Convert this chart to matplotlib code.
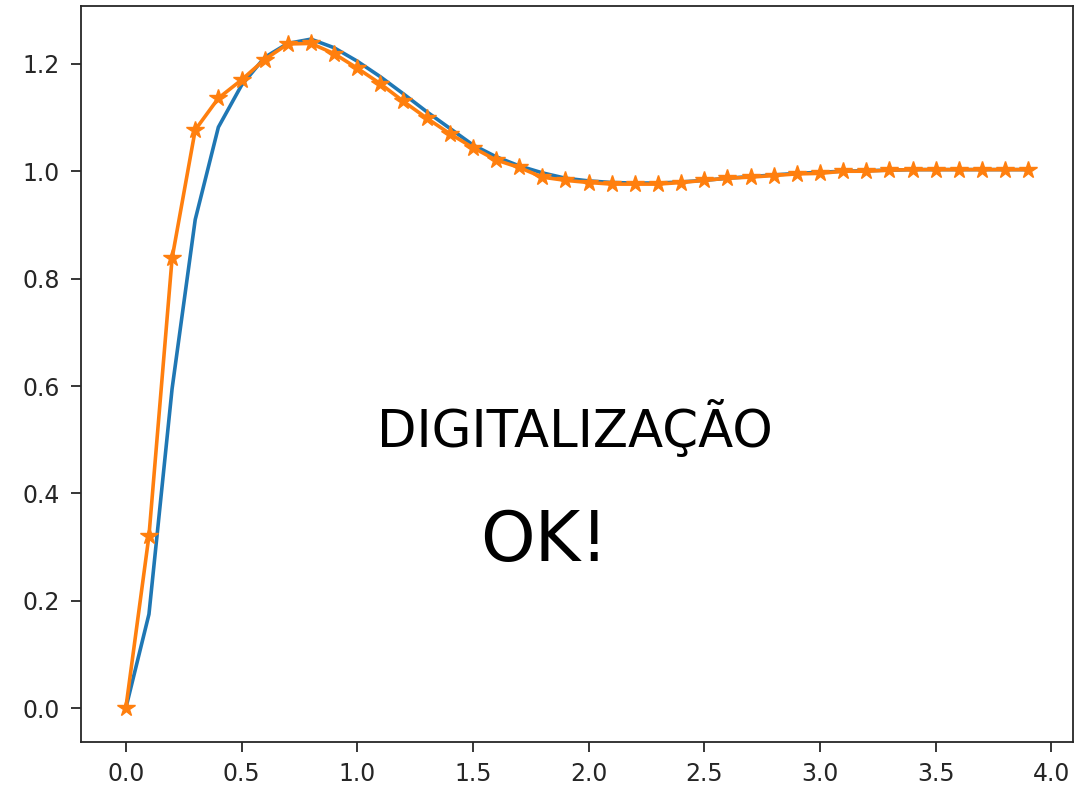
import matplotlib

matplotlib.use("Agg")
import matplotlib.pyplot as plt

# sample instants (s), 0.1 s step
t = [round(0.1 * k, 1) for k in range(40)]

# continuous-time step response, read at the sample instants
y_cont = [0.000, 0.175, 0.595, 0.910, 1.082, 1.160, 1.212, 1.238, 1.246, 1.230,
          1.205, 1.176, 1.144, 1.111, 1.080, 1.049, 1.027, 1.010, 0.997, 0.987,
          0.982, 0.979, 0.978, 0.978, 0.980, 0.983, 0.987, 0.990, 0.993, 0.996,
          0.998, 1.000, 1.001, 1.002, 1.003, 1.003, 1.003, 1.003, 1.003, 1.003]

# discretised model response
y_disc = [0.000, 0.321, 0.838, 1.077, 1.136, 1.170, 1.208, 1.237, 1.238, 1.219,
          1.192, 1.163, 1.130, 1.099, 1.070, 1.044, 1.021, 1.007, 0.989, 0.983,
          0.979, 0.976, 0.976, 0.976, 0.979, 0.983, 0.987, 0.989, 0.992, 0.995,
          0.996, 1.000, 1.000, 1.002, 1.003, 1.003, 1.003, 1.003, 1.003, 1.003]

note_top = "DIGITALIZAÇÃO"
note_bottom = "OK!"

fig = plt.figure(figsize=(10.89, 7.89), dpi=100)
ax = fig.add_axes([0.0741, 0.060, 0.9115, 0.9328])

ax.plot(t, y_cont, color="C0", lw=2.6)
ax.plot(t, y_disc, color="C1", lw=2.6, marker="*", ms=13)

ax.tick_params(labelsize=17, length=7, width=1.3, pad=8, colors="#262626")
for sp in ax.spines.values():
    sp.set_linewidth(1.3)
    sp.set_color("#262626")

ax.text(1.94, 0.52, note_top, fontsize=37, ha="center", va="center")
ax.text(1.81, 0.31, note_bottom, fontsize=50, ha="center", va="center")

fig.savefig("out.png", dpi=100)
